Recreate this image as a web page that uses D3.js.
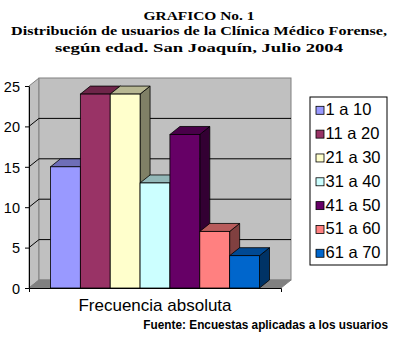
<!DOCTYPE html>
<html>
<head>
<meta charset="utf-8">
<script src="https://cdn.jsdelivr.net/npm/d3@7"></script>
<style>
  html, body { margin: 0; padding: 0; background: #ffffff; }
  svg { display: block; }
</style>
</head>
<body>
<div id="chart"></div>
<script>
// ---- data ----
const titleLines = [
  "GRAFICO No. 1",
  "Distribución de usuarios de la Clínica Médico Forense,",
  "según edad. San Joaquín, Julio 2004"
];
const category = ["Frecuencia absoluta"];
const ageGroups = ["1 a 10", "11 a 20", "21 a 30", "31 a 40", "41 a 50", "51 a 60", "61 a 70"];
const counts = [15, 24, 24, 13, 19, 7, 4];
const barColors = ["#9999ff", "#993366", "#ffffcc", "#ccffff", "#660066", "#ff8080", "#0066cc"];
const yTicks = [0, 5, 10, 15, 20, 25];
const sourceNote = "Fuente: Encuestas aplicadas a los usuarios";

const width = 399;
const height = 346;

// 3D depth offset of the plot box
const depth = { dx: 10, dy: -8 };

const svg = d3.select("#chart")
  .append("svg")
  .attr("width", width)
  .attr("height", height);

// title: old serif rendering is wide for its height, so stretch each line
const titleY = [19.5, 35, 51.5];
const titleW = [111, 376, 288];
svg.append("g")
  .selectAll("text")
  .data(titleLines)
  .join("text")
  .attr("x", (d, i) => 199 - titleW[i] / 2)
  .attr("y", (d, i) => titleY[i])
  .attr("textLength", (d, i) => titleW[i])
  .attr("lengthAdjust", "spacingAndGlyphs")
  .attr("font-family", "'Liberation Serif', 'Times New Roman', serif")
  .attr("font-weight", "bold")
  .attr("font-size", "13.5px")
  .attr("fill", "#000")
  .text(d => d);

// scales
const x0 = d3.scaleBand()
  .domain(category)
  .range([29, 281]);

const x1 = d3.scaleBand()
  .domain(ageGroups)
  .range([x0(category[0]), x0(category[0]) + x0.bandwidth()])
  .paddingInner(0)
  .paddingOuter(0.72);

const y = d3.scaleLinear()
  .domain([0, 25])
  .range([288, 86]);

const xL = x0.range()[0], xR = x0.range()[1];
const yB = y(0), yT = y(25);

// walls
const wallColor = "#c0c0c0";
const edgeColor = "#808080";

svg.append("polygon")
  .attr("points", [[xL, yB], [xL, yT], [xL + depth.dx, yT + depth.dy], [xL + depth.dx, yB + depth.dy]].join(" "))
  .attr("fill", wallColor)
  .attr("stroke", edgeColor);

svg.append("rect")
  .attr("x", xL + depth.dx)
  .attr("y", yT + depth.dy)
  .attr("width", xR - xL)
  .attr("height", yB - yT)
  .attr("fill", wallColor)
  .attr("stroke", edgeColor);

svg.append("polygon")
  .attr("points", [[xL, yB], [xR, yB], [xR + depth.dx, yB + depth.dy], [xL + depth.dx, yB + depth.dy]].join(" "))
  .attr("fill", edgeColor)
  .attr("stroke", edgeColor);

// gridlines on side + back wall
svg.append("g")
  .selectAll("path")
  .data(yTicks.filter(t => t > 0 && t < 25))
  .join("path")
  .attr("d", t => `M${xL},${y(t)}L${xL + depth.dx},${y(t) + depth.dy}H${xR + depth.dx}`)
  .attr("fill", "none")
  .attr("stroke", "#000")
  .attr("stroke-width", 1);

// bars (front, top, side)
const shade = (c, k) => {
  const col = d3.rgb(c);
  return d3.rgb(col.r * k, col.g * k, col.b * k).formatHex();
};

const bars = svg.append("g")
  .selectAll("g")
  .data(ageGroups.map((g, i) => ({ group: g, value: counts[i], color: barColors[i] })))
  .join("g");

bars.append("polygon")
  .attr("points", d => {
    const xa = x1(d.group) + x1.bandwidth(), yv = y(d.value);
    return [[xa, yv], [xa + depth.dx, yv + depth.dy], [xa + depth.dx, yB + depth.dy], [xa, yB]].join(" ");
  })
  .attr("fill", d => shade(d.color, 0.5))
  .attr("stroke", "#000")
  .attr("stroke-width", 0.8);

bars.append("polygon")
  .attr("points", d => {
    const xa = x1(d.group), xb = xa + x1.bandwidth(), yv = y(d.value);
    return [[xa, yv], [xb, yv], [xb + depth.dx, yv + depth.dy], [xa + depth.dx, yv + depth.dy]].join(" ");
  })
  .attr("fill", d => shade(d.color, 0.72))
  .attr("stroke", "#000")
  .attr("stroke-width", 0.8);

bars.append("rect")
  .attr("x", d => x1(d.group))
  .attr("y", d => y(d.value))
  .attr("width", x1.bandwidth())
  .attr("height", d => yB - y(d.value))
  .attr("fill", d => d.color)
  .attr("stroke", "#000")
  .attr("stroke-width", 0.8);

// axes
const yAxis = svg.append("g")
  .attr("transform", `translate(${xL},0)`)
  .call(d3.axisLeft(y).tickValues(yTicks).tickSize(4).tickSizeOuter(0).tickPadding(5));

const xAxis = svg.append("g")
  .attr("transform", `translate(0,${yB})`)
  .call(d3.axisBottom(x0).tickSize(0).tickSizeOuter(4).tickPadding(11));

[yAxis, xAxis].forEach(a => {
  a.selectAll("path, line").attr("stroke", "#000");
  a.selectAll("text")
    .attr("fill", "#000")
    .attr("font-family", "'Liberation Sans', Arial, sans-serif");
});
yAxis.selectAll("text").attr("font-size", "14.5px").attr("dy", "0.36em");
xAxis.selectAll("text").attr("font-size", "17px").attr("dy", "0.71em");

// legend
const legend = svg.append("g").attr("transform", "translate(310,97)");

legend.append("rect")
  .attr("width", 77)
  .attr("height", 168)
  .attr("fill", "#fff")
  .attr("stroke", "#000");

const item = legend.selectAll("g.item")
  .data(ageGroups.map((g, i) => ({ group: g, color: barColors[i] })))
  .join("g")
  .attr("class", "item")
  .attr("transform", (d, i) => `translate(0,${18.3 + i * 23.83})`);

item.append("rect")
  .attr("x", 6)
  .attr("y", -9)
  .attr("width", 8)
  .attr("height", 8)
  .attr("fill", d => d.color)
  .attr("stroke", "#000")
  .attr("stroke-width", 0.8);

item.append("text")
  .attr("x", 15.5)
  .attr("y", 0)
  .attr("font-family", "'Liberation Sans', Arial, sans-serif")
  .attr("font-size", "16.5px")
  .attr("fill", "#000")
  .text(d => d.group);

// source note (condensed bold face in the original) - squeeze horizontally
svg.append("text")
  .attr("transform", "translate(388,329) scale(0.875,1)")
  .attr("text-anchor", "end")
  .attr("font-family", "'Liberation Sans Narrow', 'Arial Narrow', 'Liberation Sans', sans-serif")
  .attr("font-weight", "bold")
  .attr("font-size", "13.5px")
  .attr("fill", "#000")
  .text(sourceNote);
</script>
</body>
</html>
